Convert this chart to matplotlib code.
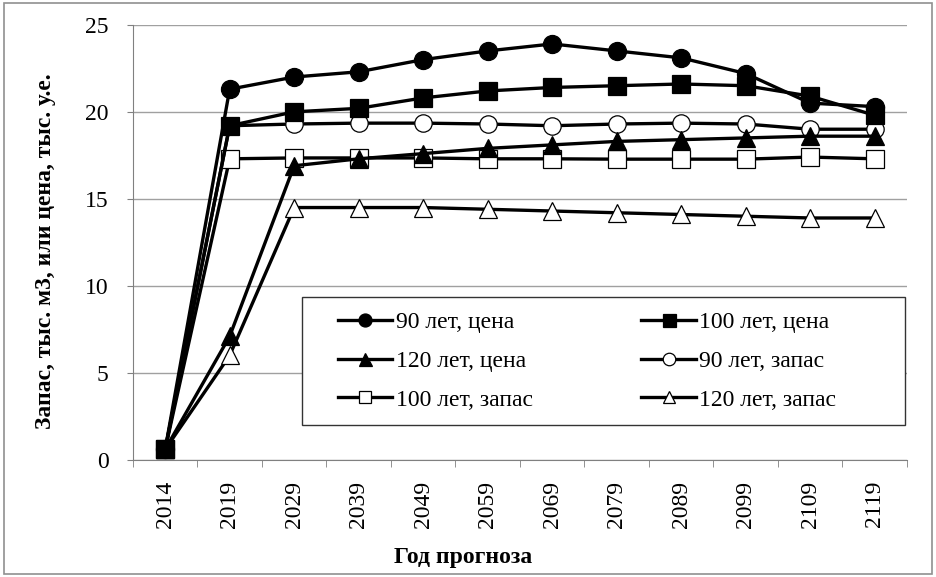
import matplotlib.pyplot as plt
from matplotlib.patches import Rectangle

years = ['2014', '2019', '2029', '2039', '2049', '2059', '2069', '2079', '2089', '2099', '2109', '2119']

# prices, thousand c.u.
price_90 = [0.6, 21.3, 22.0, 22.3, 23.0, 23.5, 23.9, 23.5, 23.1, 22.2, 20.5, 20.3]
price_100 = [0.6, 19.2, 20.0, 20.2, 20.8, 21.2, 21.4, 21.5, 21.6, 21.5, 20.9, 19.8]
price_120 = [0.6, 7.1, 16.9, 17.3, 17.6, 17.9, 18.1, 18.3, 18.4, 18.5, 18.6, 18.6]
# stock, thousand m3
stock_90 = [0.6, 19.2, 19.3, 19.35, 19.35, 19.3, 19.2, 19.3, 19.35, 19.3, 19.0, 19.0]
stock_100 = [0.6, 17.3, 17.35, 17.35, 17.35, 17.3, 17.3, 17.28, 17.28, 17.28, 17.4, 17.3]
stock_120 = [0.6, 6.0, 14.5, 14.5, 14.5, 14.4, 14.3, 14.2, 14.1, 14.0, 13.9, 13.9]

series = [
    ('90 лет, цена', price_90, 'o', 'black'),
    ('100 лет, цена', price_100, 's', 'black'),
    ('120 лет, цена', price_120, '^', 'black'),
    ('90 лет, запас', stock_90, 'o', 'white'),
    ('100 лет, запас', stock_100, 's', 'white'),
    ('120 лет, запас', stock_120, '^', 'white'),
]
# drawing order: stocks underneath, prices on top
draw_order = [5, 4, 3, 0, 1, 2]

plt.rcParams['font.family'] = ['Liberation Serif', 'DejaVu Serif']

fig = plt.figure(figsize=(9.36, 5.77), dpi=100)
ax = fig.add_axes([0.142, 0.203, 0.827, 0.754])

x = list(range(len(years)))
handles = {}
for i in draw_order:
    name, vals, mk, fc = series[i]
    ms = 13 if fc == 'black' else 12.5
    h, = ax.plot(x, vals, color='black', lw=2.4, marker=mk, markersize=ms,
                 markerfacecolor=fc, markeredgecolor='black',
                 markeredgewidth=0.9, label=name)
    handles[name] = h

ax.set_xlim(-0.5, len(years) - 0.5)
ax.set_ylim(0, 25)
ax.set_yticks([0, 5, 10, 15, 20, 25])
ax.set_xticks(x)
ax.set_xticklabels(years, rotation=90, fontsize=17)
ax.set_xticks([i - 0.5 for i in range(len(years) + 1)], minor=True)
ax.tick_params(axis='x', which='major', length=0, pad=15)
ax.tick_params(axis='x', which='minor', length=5, color='#808080', direction='out')
ax.tick_params(axis='y', length=4.5, color='#808080', labelsize=17, pad=13)

ax.yaxis.grid(True, color='#a0a0a0', lw=1)
ax.set_axisbelow(True)
for s in ['top', 'right']:
    ax.spines[s].set_visible(False)
for s in ['left', 'bottom']:
    ax.spines[s].set_color('#808080')

ax.set_ylabel('Запас, тыс. м3, или цена, тыс. у.е.', fontsize=17, fontweight='bold')
ax.yaxis.set_label_coords(-0.1, 0.48)
ax.set_xlabel('Год прогноза', fontsize=17, fontweight='bold')
ax.xaxis.set_label_coords(0.426, -0.2)

# legend frame and entries (row-wise like the original)
ax.add_patch(Rectangle((0.218, 0.08), 0.779, 0.294, transform=ax.transAxes,
                       facecolor='white', edgecolor='#333333', lw=1.0, zorder=5))
order = ['90 лет, цена', '120 лет, цена', '100 лет, запас',
         '100 лет, цена', '90 лет, запас', '120 лет, запас']
leg = ax.legend([handles[n] for n in order], order, ncol=2, loc='upper left',
                bbox_to_anchor=(0.265, 0.34), frameon=False, fontsize=17,
                handlelength=2.3, handletextpad=0.15, markerscale=0.72,
                borderaxespad=0, borderpad=0, labelspacing=0.72,
                columnspacing=4.6)
leg.set_zorder(6)

fig.patches.append(Rectangle((0.004, 0.006), 0.992, 0.988, transform=fig.transFigure,
                             fill=False, edgecolor='#909090', lw=1.2))

fig.savefig('out.png', dpi=100)
